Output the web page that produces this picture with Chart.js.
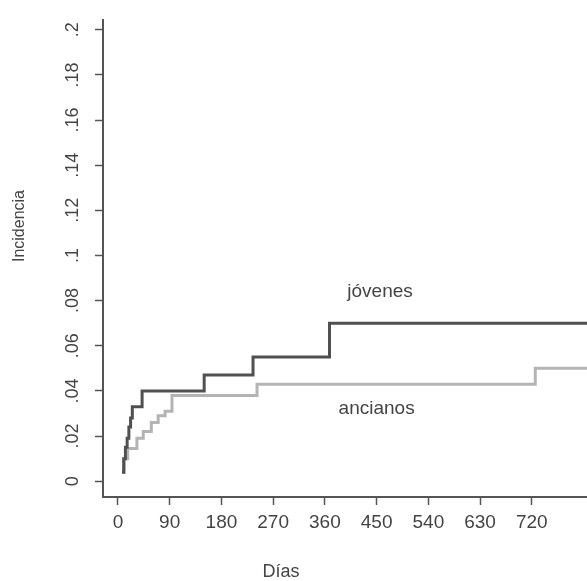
<!DOCTYPE html>
<html>
<head>
<meta charset="utf-8">
<script src="https://cdn.jsdelivr.net/npm/chart.js@4/dist/chart.umd.min.js"></script>
<style>
  html, body { margin: 0; padding: 0; background: #fff; }
  #marco { width: 587px; height: 581px; }
</style>
</head>
<body>
<div id="marco"><canvas id="incidencia"></canvas></div>
<script>
// datos (dias, incidencia acumulada)
const jovenesDias = [7, 10, 13, 16, 19, 22, 25, 42, 150, 235, 368, 830];
const jovenesInc = [0.004, 0.010, 0.015, 0.019, 0.024, 0.028, 0.033, 0.040, 0.047, 0.055, 0.070, 0.070];
const ancianosDias = [7, 11, 17, 33, 44, 58, 70, 82, 94, 242, 726, 830];
const ancianosInc = [0.004, 0.010, 0.0145, 0.019, 0.022, 0.026, 0.029, 0.031, 0.038, 0.043, 0.050, 0.050];

const diasTicks = [0, 90, 180, 270, 360, 450, 540, 630, 720];
const incTicks = [0, 0.02, 0.04, 0.06, 0.08, 0.1, 0.12, 0.14, 0.16, 0.18, 0.2];
const incEtiquetas = ["0", ".02", ".04", ".06", ".08", ".1", ".12", ".14", ".16", ".18", ".2"];

const rotulos = ["jóvenes", "ancianos"];
const rotulosDia = [456, 450];
const rotulosInc = [0.0838, 0.032];

const tinta = "#444";
const fuente = "'Liberation Sans', Arial, sans-serif";

const puntos = (xs, ys) => xs.map((x, i) => ({ x: x, y: ys[i] }));

// textos sueltos: rotulos de las curvas y titulos de ejes
const textos = {
  id: "textos",
  afterDraw(chart) {
    const { ctx, scales } = chart;
    ctx.save();
    ctx.fillStyle = tinta;
    ctx.textAlign = "center";
    ctx.textBaseline = "middle";
    ctx.font = "19px " + fuente;
    rotulos.forEach((t, i) => {
      ctx.fillText(t, scales.x.getPixelForValue(rotulosDia[i]), scales.y.getPixelForValue(rotulosInc[i]));
    });
    ctx.font = "18px " + fuente;
    ctx.fillText("Días", 281, 572);
    ctx.translate(20, 226);
    ctx.rotate(-Math.PI / 2);
    ctx.font = "16px " + fuente;
    ctx.fillText("Incidencia", 0, 0);
    ctx.restore();
  }
};

new Chart(document.getElementById("incidencia"), {
  type: "line",
  data: {
    datasets: [
      {
        label: "jóvenes",
        data: puntos(jovenesDias, jovenesInc),
        borderColor: "#505050",
        borderWidth: 3,
        stepped: true,
        pointRadius: 0
      },
      {
        label: "ancianos",
        data: puntos(ancianosDias, ancianosInc),
        borderColor: "#b4b4b4",
        borderWidth: 3,
        stepped: true,
        pointRadius: 0
      }
    ]
  },
  options: {
    responsive: true,
    maintainAspectRatio: false,
    animation: false,
    layout: { padding: { top: 15, left: 0, right: 0, bottom: 0 } },
    plugins: {
      legend: { display: false },
      tooltip: { enabled: false }
    },
    scales: {
      x: {
        type: "linear",
        min: -26,
        max: 816,
        afterBuildTicks: (s) => { s.ticks = diasTicks.map(v => ({ value: v })); },
        afterFit: (s) => { s.height = 84; },
        grid: { display: true, drawOnChartArea: false, drawTicks: true, tickLength: 8, tickColor: "#555", tickWidth: 1.5 },
        border: { display: true, color: "#555", width: 2 },
        ticks: { color: tinta, font: { family: fuente, size: 19 }, padding: 6, maxRotation: 0, autoSkip: false }
      },
      y: {
        type: "linear",
        min: -0.007,
        max: 0.2044,
        afterBuildTicks: (s) => { s.ticks = incTicks.map(v => ({ value: v })); },
        afterFit: (s) => { s.width = 103; },
        grid: { display: true, drawOnChartArea: false, drawTicks: true, tickLength: 8, tickColor: "#555", tickWidth: 1.5 },
        border: { display: true, color: "#555", width: 2 },
        ticks: {
          color: tinta,
          font: { family: fuente, size: 18 },
          minRotation: 90,
          maxRotation: 90,
          crossAlign: "center",
          padding: 9,
          autoSkip: false,
          callback: (v, i) => incEtiquetas[i]
        }
      }
    }
  },
  plugins: [textos]
});
</script>
</body>
</html>
